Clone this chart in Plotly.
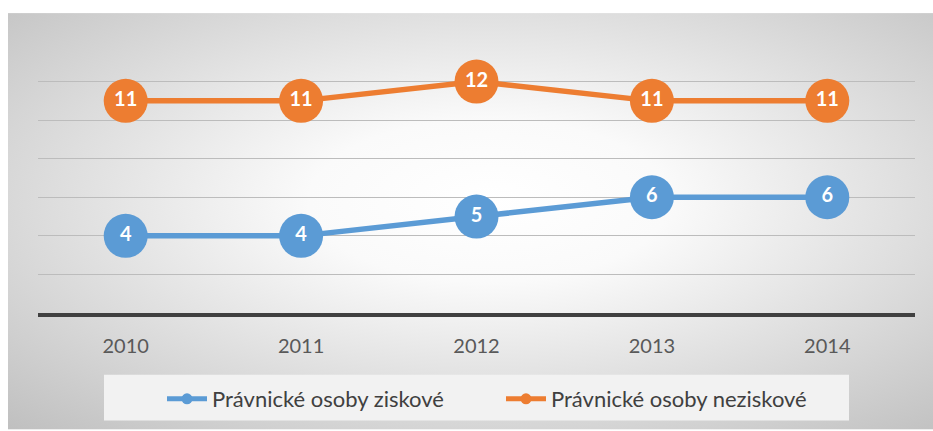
import base64
import plotly.graph_objects as go

years = ["2010", "2011", "2012", "2013", "2014"]
ziskove = [4, 4, 5, 6, 6]
neziskove = [11, 11, 12, 11, 11]
name_z = "Právnické osoby ziskové"
name_n = "Právnické osoby neziskové"
blue = "#5B9BD5"
orange = "#ED7D31"
FONT = "Lato"

svg = (
    "<svg xmlns='http://www.w3.org/2000/svg' width='925' height='418' preserveAspectRatio='none'>"
    "<defs><radialGradient id='g' cx='0.52' cy='0.45' r='0.78'>"
    "<stop offset='0' stop-color='#ffffff'/>"
    "<stop offset='0.25' stop-color='#fafafa'/>"
    "<stop offset='1' stop-color='#bdbdbd'/>"
    "</radialGradient></defs>"
    "<rect x='0' y='0' width='925' height='418' fill='url(#g)'/></svg>"
)
bg_uri = "data:image/svg+xml;base64," + base64.b64encode(svg.encode()).decode()

fig = go.Figure()
for vals, col in [(ziskove, blue), (neziskove, orange)]:
    fig.add_trace(go.Scatter(
        x=years, y=vals, mode="lines+markers+text",
        line=dict(color=col, width=5.5),
        marker=dict(color=col, size=44, line=dict(width=0)),
        text=[str(v) for v in vals], textposition="middle center",
        textfont=dict(family=FONT, size=20, color="white", weight="bold"),
        showlegend=False, hoverinfo="skip", cliponaxis=False,
    ))
for nm, col in [(name_z, blue), (name_n, orange)]:
    fig.add_trace(go.Scatter(
        x=[None], y=[None], mode="lines+markers", name=nm,
        line=dict(color=col, width=5), marker=dict(color=col, size=11),
    ))

W, H = 933, 431
L, R, T, B = 38, 18, 43, 117
pw, ph = W - L - R, H - T - B

fig.add_layout_image(dict(
    source=bg_uri, xref="paper", yref="paper",
    x=-(L - 8) / pw, y=1 + (T - 13) / ph,
    sizex=(W - 8) / pw, sizey=(H - 13) / ph,
    xanchor="left", yanchor="top", sizing="stretch", layer="below",
))
fig.add_shape(type="rect", xref="paper", yref="paper",
              x0=(104 - L) / pw, x1=(849 - L) / pw,
              y0=-(422 - T - ph) / ph, y1=-(376 - T - ph) / ph,
              fillcolor="#f2f2f2", line=dict(width=0), layer="below")

fig.update_layout(
    width=W, height=H,
    margin=dict(l=L, r=R, t=T, b=B),
    paper_bgcolor="white", plot_bgcolor="rgba(0,0,0,0)",
    font=dict(family=FONT, color="#595959"),
    xaxis=dict(showgrid=False, showline=True, linecolor="#404040", linewidth=4,
               ticks="", tickfont=dict(size=20, color="#595959"),
               range=[-0.5, len(years) - 0.5],
               ticklabelstandoff=12, fixedrange=True),
    yaxis=dict(range=[0, 14], dtick=2, showticklabels=False, gridcolor="#bcbcbc",
               gridwidth=1, zeroline=False, fixedrange=True),
    legend=dict(orientation="h", x=(162 - L) / pw, xanchor="left",
                y=-(399 - T - ph) / ph, yanchor="middle",
                font=dict(size=22, color="#404040", family=FONT),
                bgcolor="rgba(0,0,0,0)", entrywidth=284, itemwidth=40),
)
fig.write_html("out.html", config={"displayModeBar": False},
               post_script="document.body.style.margin='0';")
